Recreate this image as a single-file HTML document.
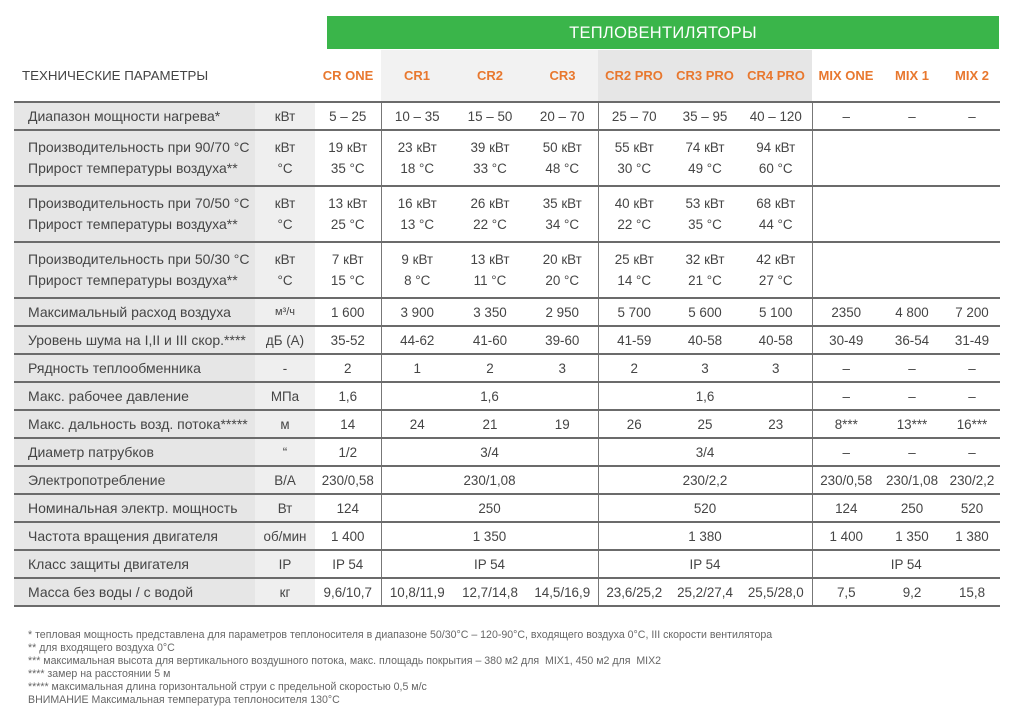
<!DOCTYPE html>
<html><head><meta charset="utf-8"><style>
body{margin:0;width:1024px;height:713px;background:#fff;position:relative;overflow:hidden;font-family:"Liberation Sans","DejaVu Sans",sans-serif;color:#454545}
.abs{position:absolute}
#green{left:327px;top:16px;width:672px;height:33px;background:#3ab54a;color:#fff;font-size:16.5px;text-align:center;line-height:34px;letter-spacing:0.3px}
.hb{top:50px;height:52px}
.h{top:68px;font-size:13px;font-weight:bold;color:#e8782f;text-align:center;white-space:nowrap}
table{position:absolute;left:14px;top:101px;border-collapse:collapse;table-layout:fixed;width:986px;font-size:13.4px}
td{border-top:2px solid #6b6b6b;text-align:center;padding:0;height:26px;line-height:21px;white-space:nowrap;overflow:hidden}
tr.t td{height:54px}
tr.last td{border-bottom:2px solid #6b6b6b}
td.l{text-align:left;padding-left:14px;background:#e6e6e6;font-size:14px}
td.u{background:#efefef}
.v{border-left:1.5px solid #777}
#foot{left:28px;top:629px;font-family:"Liberation Sans Narrow","Liberation Sans",sans-serif;font-size:10.6px;color:#666;line-height:13px}
</style></head><body>
<div class="abs" id="green">ТЕПЛОВЕНТИЛЯТОРЫ</div>
<div class="abs hb" style="left:381px;width:217px;background:#f2f2f2"></div>
<div class="abs hb" style="left:598px;width:214px;background:#e6e6e6"></div>
<div class="abs" style="left:22px;top:68px;font-size:13.3px;color:#444">ТЕХНИЧЕСКИЕ ПАРАМЕТРЫ</div>
<div class="abs h" style="left:315px;width:66px">CR ONE</div>
<div class="abs h" style="left:381px;width:72px">CR1</div>
<div class="abs h" style="left:453px;width:74px">CR2</div>
<div class="abs h" style="left:527px;width:71px">CR3</div>
<div class="abs h" style="left:598px;width:72px">CR2 PRO</div>
<div class="abs h" style="left:670px;width:70px">CR3 PRO</div>
<div class="abs h" style="left:740px;width:72px">CR4 PRO</div>
<div class="abs h" style="left:812px;width:68px">MIX ONE</div>
<div class="abs h" style="left:880px;width:64px">MIX 1</div>
<div class="abs h" style="left:944px;width:56px">MIX 2</div>
<table>
<colgroup><col style="width:241px"><col style="width:60px"><col style="width:66px"><col style="width:72px"><col style="width:74px"><col style="width:71px"><col style="width:72px"><col style="width:70px"><col style="width:72px"><col style="width:68px"><col style="width:64px"><col style="width:56px"></colgroup>
<tr><td class="l">Диапазон мощности нагрева*</td><td class="u">кВт</td><td>5 – 25</td><td class="v">10 – 35</td><td>15 – 50</td><td>20 – 70</td><td class="v">25 – 70</td><td>35 – 95</td><td>40 – 120</td><td class="v">–</td><td>–</td><td>–</td></tr>
<tr class="t"><td class="l">Производительность при 90/70 °C<br>Прирост температуры воздуха**</td><td class="u">кВт<br>°C</td><td>19 кВт<br>35 °C</td><td class="v">23 кВт<br>18 °C</td><td>39 кВт<br>33 °C</td><td>50 кВт<br>48 °C</td><td class="v">55 кВт<br>30 °C</td><td>74 кВт<br>49 °C</td><td>94 кВт<br>60 °C</td><td class="v" colspan="3"></td></tr>
<tr class="t"><td class="l">Производительность при 70/50 °C<br>Прирост температуры воздуха**</td><td class="u">кВт<br>°C</td><td>13 кВт<br>25 °C</td><td class="v">16 кВт<br>13 °C</td><td>26 кВт<br>22 °C</td><td>35 кВт<br>34 °C</td><td class="v">40 кВт<br>22 °C</td><td>53 кВт<br>35 °C</td><td>68 кВт<br>44 °C</td><td class="v" colspan="3"></td></tr>
<tr class="t"><td class="l">Производительность при 50/30 °C<br>Прирост температуры воздуха**</td><td class="u">кВт<br>°C</td><td>7 кВт<br>15 °C</td><td class="v">9 кВт<br>8 °C</td><td>13 кВт<br>11 °C</td><td>20 кВт<br>20 °C</td><td class="v">25 кВт<br>14 °C</td><td>32 кВт<br>21 °C</td><td>42 кВт<br>27 °C</td><td class="v" colspan="3"></td></tr>
<tr><td class="l">Максимальный расход воздуха</td><td class="u" style="font-size:11px">м³/ч</td><td>1 600</td><td class="v">3 900</td><td>3 350</td><td>2 950</td><td class="v">5 700</td><td>5 600</td><td>5 100</td><td class="v">2350</td><td>4 800</td><td>7 200</td></tr>
<tr><td class="l">Уровень шума на I,II и III скор.****</td><td class="u">дБ (А)</td><td>35-52</td><td class="v">44-62</td><td>41-60</td><td>39-60</td><td class="v">41-59</td><td>40-58</td><td>40-58</td><td class="v">30-49</td><td>36-54</td><td>31-49</td></tr>
<tr><td class="l">Рядность теплообменника</td><td class="u">-</td><td>2</td><td class="v">1</td><td>2</td><td>3</td><td class="v">2</td><td>3</td><td>3</td><td class="v">–</td><td>–</td><td>–</td></tr>
<tr><td class="l">Макс. рабочее давление</td><td class="u">МПа</td><td>1,6</td><td class="v" colspan="3">1,6</td><td class="v" colspan="3">1,6</td><td class="v">–</td><td>–</td><td>–</td></tr>
<tr><td class="l">Макс. дальность возд. потока*****</td><td class="u">м</td><td>14</td><td class="v">24</td><td>21</td><td>19</td><td class="v">26</td><td>25</td><td>23</td><td class="v">8***</td><td>13***</td><td>16***</td></tr>
<tr><td class="l">Диаметр патрубков</td><td class="u">“</td><td>1/2</td><td class="v" colspan="3">3/4</td><td class="v" colspan="3">3/4</td><td class="v">–</td><td>–</td><td>–</td></tr>
<tr><td class="l">Электропотребление</td><td class="u">В/А</td><td>230/0,58</td><td class="v" colspan="3">230/1,08</td><td class="v" colspan="3">230/2,2</td><td class="v">230/0,58</td><td>230/1,08</td><td>230/2,2</td></tr>
<tr><td class="l">Номинальная электр. мощность</td><td class="u">Вт</td><td>124</td><td class="v" colspan="3">250</td><td class="v" colspan="3">520</td><td class="v">124</td><td>250</td><td>520</td></tr>
<tr><td class="l">Частота вращения двигателя</td><td class="u">об/мин</td><td>1 400</td><td class="v" colspan="3">1 350</td><td class="v" colspan="3">1 380</td><td class="v">1 400</td><td>1 350</td><td>1 380</td></tr>
<tr><td class="l">Класс защиты двигателя</td><td class="u">IP</td><td>IP 54</td><td class="v" colspan="3">IP 54</td><td class="v" colspan="3">IP 54</td><td class="v" colspan="3">IP 54</td></tr>
<tr class="last"><td class="l">Масса без воды / с водой</td><td class="u">кг</td><td>9,6/10,7</td><td class="v">10,8/11,9</td><td>12,7/14,8</td><td>14,5/16,9</td><td class="v">23,6/25,2</td><td>25,2/27,4</td><td>25,5/28,0</td><td class="v">7,5</td><td>9,2</td><td>15,8</td></tr>
</table>
<div class="abs" id="foot">* тепловая мощность представлена для параметров теплоносителя в диапазоне 50/30°C – 120-90°C, входящего воздуха 0°C, III скорости вентилятора<br>** для входящего воздуха 0°C<br>*** максимальная высота для вертикального воздушного потока, макс. площадь покрытия – 380 м2 для&nbsp; MIX1, 450 м2 для&nbsp; MIX2<br>**** замер на расстоянии 5 м<br>***** максимальная длина горизонтальной струи с предельной скоростью 0,5 м/с<br>ВНИМАНИЕ Максимальная температура теплоносителя 130°C</div>
</body></html>
